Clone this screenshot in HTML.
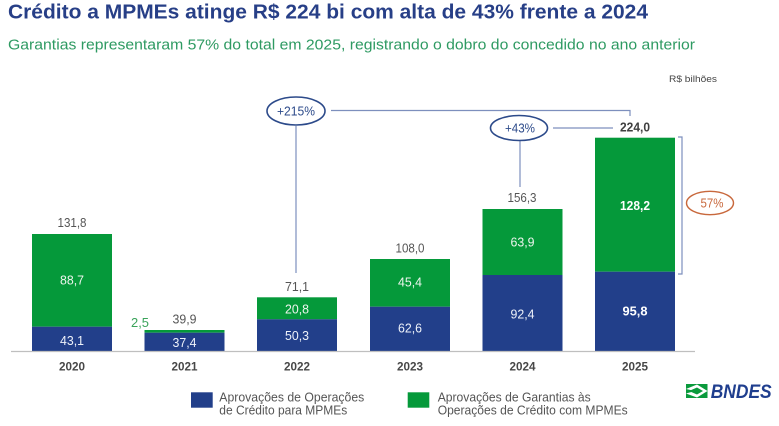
<!DOCTYPE html>
<html>
<head>
<meta charset="utf-8">
<style>
html,body{margin:0;padding:0;background:#fff;}
svg{display:block;}
text{font-family:"Liberation Sans",Arial,sans-serif;}
</style>
</head>
<body>
<svg width="779" height="426" viewBox="0 0 779 426" xmlns="http://www.w3.org/2000/svg">
<rect width="779" height="426" fill="#fff"/>
<!-- Title -->
<text x="8" y="18.5" font-size="20.5" font-weight="bold" fill="#273f87" textLength="640" lengthAdjust="spacingAndGlyphs">Crédito a MPMEs atinge R$ 224 bi com alta de 43% frente a 2024</text>
<text x="8" y="49.5" font-size="15" fill="#2e9a62" textLength="687" lengthAdjust="spacingAndGlyphs">Garantias representaram 57% do total em 2025, registrando o dobro do concedido no ano anterior</text>
<text x="669" y="82" font-size="9.5" fill="#444" textLength="48" lengthAdjust="spacingAndGlyphs">R$ bilhões</text>

<!-- connectors -->
<g stroke="#7d8fbd" stroke-width="1.2" fill="none">
<polyline points="331,110.5 630,110.5 630,116"/>
<line x1="296" y1="126" x2="296" y2="273"/>
<line x1="553" y1="128" x2="613" y2="128"/>
<line x1="520" y1="141" x2="520" y2="187"/>
<polyline points="678,137 682,137 682,274 678,274"/>
</g>
<ellipse cx="296" cy="111" rx="29" ry="14" fill="#fff" stroke="#2c4a8a" stroke-width="1.6"/>
<text x="296" y="115.5" font-size="12.5" fill="#2c4a8a" text-anchor="middle" textLength="38" lengthAdjust="spacingAndGlyphs">+215%</text>
<ellipse cx="519" cy="128" rx="28.5" ry="12.5" fill="#fff" stroke="#2c4a8a" stroke-width="1.6"/>
<text x="520" y="132.5" font-size="12.5" fill="#2c4a8a" text-anchor="middle" textLength="30" lengthAdjust="spacingAndGlyphs">+43%</text>
<ellipse cx="710" cy="203" rx="23.5" ry="11.7" fill="#fff" stroke="#c8683c" stroke-width="1.4"/>
<text x="712" y="207.5" font-size="12.5" fill="#c8683c" text-anchor="middle" textLength="23" lengthAdjust="spacingAndGlyphs">57%</text>

<!-- bars -->
<g>
<rect x="32" y="234" width="80" height="92.7" fill="#05993a"/>
<rect x="32" y="326.7" width="80" height="24.3" fill="#223f8a"/>
<rect x="144.5" y="330" width="80" height="2.7" fill="#05993a"/>
<rect x="144.5" y="332.7" width="80" height="18.3" fill="#223f8a"/>
<rect x="257" y="297.3" width="80" height="22" fill="#05993a"/>
<rect x="257" y="319.3" width="80" height="31.7" fill="#223f8a"/>
<rect x="370" y="259" width="80" height="47.7" fill="#05993a"/>
<rect x="370" y="306.7" width="80" height="44.3" fill="#223f8a"/>
<rect x="482.5" y="209" width="80" height="66" fill="#05993a"/>
<rect x="482.5" y="275" width="80" height="76" fill="#223f8a"/>
<rect x="595" y="137.7" width="80" height="134" fill="#05993a"/>
<rect x="595" y="271.7" width="80" height="79.3" fill="#223f8a"/>
</g>
<line x1="11" y1="351.5" x2="695" y2="351.5" stroke="#bfbfbf" stroke-width="1.2"/>

<!-- labels -->
<g font-size="13" text-anchor="middle" lengthAdjust="spacingAndGlyphs">
<text x="72" y="227" fill="#555" textLength="29" lengthAdjust="spacingAndGlyphs">131,8</text>
<text x="72" y="284.5" fill="#eef5ee" textLength="24" lengthAdjust="spacingAndGlyphs">88,7</text>
<text x="72" y="345" fill="#eef2fa" textLength="24" lengthAdjust="spacingAndGlyphs">43,1</text>
<text x="140" y="327" fill="#3aa35a" textLength="18" lengthAdjust="spacingAndGlyphs">2,5</text>
<text x="184.5" y="323.5" fill="#555" textLength="24" lengthAdjust="spacingAndGlyphs">39,9</text>
<text x="184.5" y="347" fill="#eef2fa" textLength="24" lengthAdjust="spacingAndGlyphs">37,4</text>
<text x="297" y="291" fill="#555" textLength="24" lengthAdjust="spacingAndGlyphs">71,1</text>
<text x="297" y="313.5" fill="#eef5ee" textLength="24" lengthAdjust="spacingAndGlyphs">20,8</text>
<text x="297" y="340" fill="#eef2fa" textLength="24" lengthAdjust="spacingAndGlyphs">50,3</text>
<text x="410" y="252.5" fill="#555" textLength="29" lengthAdjust="spacingAndGlyphs">108,0</text>
<text x="410" y="286.5" fill="#eef5ee" textLength="24" lengthAdjust="spacingAndGlyphs">45,4</text>
<text x="410" y="332.5" fill="#eef2fa" textLength="24" lengthAdjust="spacingAndGlyphs">62,6</text>
<text x="522" y="202" fill="#555" textLength="29" lengthAdjust="spacingAndGlyphs">156,3</text>
<text x="522.5" y="246.5" fill="#eef5ee" textLength="24" lengthAdjust="spacingAndGlyphs">63,9</text>
<text x="522.5" y="318.5" fill="#eef2fa" textLength="24" lengthAdjust="spacingAndGlyphs">92,4</text>
<text x="635" y="131.5" fill="#404040" font-weight="bold" textLength="30" lengthAdjust="spacingAndGlyphs">224,0</text>
<text x="635" y="210" fill="#ffffff" font-weight="bold" textLength="30" lengthAdjust="spacingAndGlyphs">128,2</text>
<text x="635" y="315.5" fill="#ffffff" font-weight="bold" textLength="25" lengthAdjust="spacingAndGlyphs">95,8</text>
</g>
<g font-size="12" font-weight="bold" fill="#474747" text-anchor="middle">
<text x="72" y="370.5" textLength="26" lengthAdjust="spacingAndGlyphs">2020</text>
<text x="184.5" y="370.5" textLength="26" lengthAdjust="spacingAndGlyphs">2021</text>
<text x="297" y="370.5" textLength="26" lengthAdjust="spacingAndGlyphs">2022</text>
<text x="410" y="370.5" textLength="26" lengthAdjust="spacingAndGlyphs">2023</text>
<text x="522.5" y="370.5" textLength="26" lengthAdjust="spacingAndGlyphs">2024</text>
<text x="635" y="370.5" textLength="26" lengthAdjust="spacingAndGlyphs">2025</text>
</g>

<!-- legend -->
<rect x="191" y="392.3" width="21.7" height="15.4" fill="#223f8a"/>
<rect x="407.7" y="392.3" width="21.6" height="15.4" fill="#05993a"/>
<g font-size="12.5" fill="#555">
<text x="219.3" y="401.7" textLength="145" lengthAdjust="spacingAndGlyphs">Aprovações de Operações</text>
<text x="219.3" y="414.3" textLength="128" lengthAdjust="spacingAndGlyphs">de Crédito para MPMEs</text>
<text x="437.7" y="401.7" textLength="153" lengthAdjust="spacingAndGlyphs">Aprovações de Garantias às</text>
<text x="437.7" y="414.3" textLength="190" lengthAdjust="spacingAndGlyphs">Operações de Crédito com MPMEs</text>
</g>

<!-- BNDES logo -->
<rect x="686" y="384" width="21.5" height="14" fill="#0a9a3c"/>
<polygon points="686,389 697,384.5 707.5,391 697,397.5 686,393.5 695,391" fill="#fff"/>
<polygon points="689,391 697,387.5 703,391 697,394.5" fill="#0a9a3c"/>
<text x="710.7" y="398" font-size="19" font-weight="bold" font-style="italic" fill="#1f3e8e" textLength="61" lengthAdjust="spacingAndGlyphs">BNDES</text>
</svg>
</body>
</html>
